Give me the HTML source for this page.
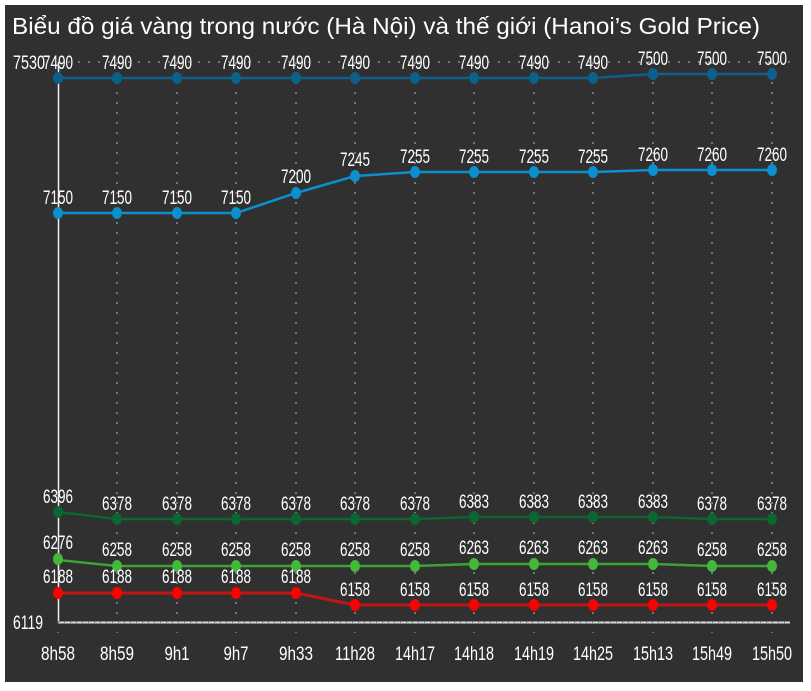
<!DOCTYPE html>
<html><head><meta charset="utf-8"><style>
html,body{margin:0;padding:0;background:#fff;width:811px;height:691px;overflow:hidden}
svg{display:block}
text{font-family:"Liberation Sans",sans-serif;fill:#fff}
</style></head><body>
<svg width="811" height="691" viewBox="0 0 811 691">
<rect x="5" y="5" width="798" height="677" fill="#303030"/>
<text x="12" y="34" style="font-size:23px" textLength="748" lengthAdjust="spacingAndGlyphs">Biểu đồ giá vàng trong nước (Hà Nội) và thế giới (Hanoi’s Gold Price)</text>
<g stroke="#bbb" stroke-width="1" stroke-dasharray="2,8">
<line x1="117" y1="62" x2="117" y2="622"/><line x1="177" y1="62" x2="177" y2="622"/><line x1="236" y1="62" x2="236" y2="622"/><line x1="296" y1="62" x2="296" y2="622"/><line x1="355" y1="62" x2="355" y2="622"/><line x1="415" y1="62" x2="415" y2="622"/><line x1="474" y1="62" x2="474" y2="622"/><line x1="534" y1="62" x2="534" y2="622"/><line x1="593" y1="62" x2="593" y2="622"/><line x1="653" y1="62" x2="653" y2="622"/><line x1="712" y1="62" x2="712" y2="622"/><line x1="772" y1="62" x2="772" y2="622"/>
<line x1="58" y1="62" x2="790" y2="62"/>
</g>
<g stroke="#aaa" stroke-dasharray="1,8"><line x1="58" y1="632" x2="58" y2="640"/><line x1="117" y1="632" x2="117" y2="640"/><line x1="177" y1="632" x2="177" y2="640"/><line x1="236" y1="632" x2="236" y2="640"/><line x1="296" y1="632" x2="296" y2="640"/><line x1="355" y1="632" x2="355" y2="640"/><line x1="415" y1="632" x2="415" y2="640"/><line x1="474" y1="632" x2="474" y2="640"/><line x1="534" y1="632" x2="534" y2="640"/><line x1="593" y1="632" x2="593" y2="640"/><line x1="653" y1="632" x2="653" y2="640"/><line x1="712" y1="632" x2="712" y2="640"/><line x1="772" y1="632" x2="772" y2="640"/></g>
<line x1="58.5" y1="62" x2="58.5" y2="623" stroke="#eee" stroke-width="1.5"/>
<line x1="58" y1="622.5" x2="790" y2="622.5" stroke="#ddd" stroke-width="2"/>
<line x1="58" y1="622" x2="790" y2="622" stroke="#777" stroke-width="2" stroke-dasharray="1,5"/>
<g style="font-size:19px" text-anchor="middle">
<text x="29" y="69" textLength="32" lengthAdjust="spacingAndGlyphs">7530</text>
<text x="28" y="629" textLength="30" lengthAdjust="spacingAndGlyphs">6119</text>
</g>
<polyline fill="none" stroke="#0d5f8c" stroke-width="2.5" points="58,78 117,78 177,78 236,78 296,78 355,78 415,78 474,78 534,78 593,78 653,74 712,74 772,74"/>
<g fill="#0d5f8c"><ellipse cx="58" cy="78" rx="5" ry="6"/><ellipse cx="117" cy="78" rx="5" ry="6"/><ellipse cx="177" cy="78" rx="5" ry="6"/><ellipse cx="236" cy="78" rx="5" ry="6"/><ellipse cx="296" cy="78" rx="5" ry="6"/><ellipse cx="355" cy="78" rx="5" ry="6"/><ellipse cx="415" cy="78" rx="5" ry="6"/><ellipse cx="474" cy="78" rx="5" ry="6"/><ellipse cx="534" cy="78" rx="5" ry="6"/><ellipse cx="593" cy="78" rx="5" ry="6"/><ellipse cx="653" cy="74" rx="5" ry="6"/><ellipse cx="712" cy="74" rx="5" ry="6"/><ellipse cx="772" cy="74" rx="5" ry="6"/></g>
<polyline fill="none" stroke="#0a8fcf" stroke-width="2.5" points="58,213 117,213 177,213 236,213 296,193 355,176 415,172 474,172 534,172 593,172 653,170 712,170 772,170"/>
<g fill="#0a8fcf"><ellipse cx="58" cy="213" rx="5" ry="6"/><ellipse cx="117" cy="213" rx="5" ry="6"/><ellipse cx="177" cy="213" rx="5" ry="6"/><ellipse cx="236" cy="213" rx="5" ry="6"/><ellipse cx="296" cy="193" rx="5" ry="6"/><ellipse cx="355" cy="176" rx="5" ry="6"/><ellipse cx="415" cy="172" rx="5" ry="6"/><ellipse cx="474" cy="172" rx="5" ry="6"/><ellipse cx="534" cy="172" rx="5" ry="6"/><ellipse cx="593" cy="172" rx="5" ry="6"/><ellipse cx="653" cy="170" rx="5" ry="6"/><ellipse cx="712" cy="170" rx="5" ry="6"/><ellipse cx="772" cy="170" rx="5" ry="6"/></g>
<polyline fill="none" stroke="#0b6630" stroke-width="2.5" points="58,512 117,519 177,519 236,519 296,519 355,519 415,519 474,517 534,517 593,517 653,517 712,519 772,519"/>
<g fill="#0b6630"><ellipse cx="58" cy="512" rx="5" ry="6"/><ellipse cx="117" cy="519" rx="5" ry="6"/><ellipse cx="177" cy="519" rx="5" ry="6"/><ellipse cx="236" cy="519" rx="5" ry="6"/><ellipse cx="296" cy="519" rx="5" ry="6"/><ellipse cx="355" cy="519" rx="5" ry="6"/><ellipse cx="415" cy="519" rx="5" ry="6"/><ellipse cx="474" cy="517" rx="5" ry="6"/><ellipse cx="534" cy="517" rx="5" ry="6"/><ellipse cx="593" cy="517" rx="5" ry="6"/><ellipse cx="653" cy="517" rx="5" ry="6"/><ellipse cx="712" cy="519" rx="5" ry="6"/><ellipse cx="772" cy="519" rx="5" ry="6"/></g>
<polyline fill="none" stroke="#3aa535" stroke-width="2.5" points="58,560 117,566 177,566 236,566 296,566 355,566 415,566 474,564 534,564 593,564 653,564 712,566 772,566"/>
<g fill="#43b83c"><ellipse cx="58" cy="559" rx="5" ry="6"/><ellipse cx="117" cy="566" rx="5" ry="6"/><ellipse cx="177" cy="566" rx="5" ry="6"/><ellipse cx="236" cy="566" rx="5" ry="6"/><ellipse cx="296" cy="566" rx="5" ry="6"/><ellipse cx="355" cy="566" rx="5" ry="6"/><ellipse cx="415" cy="566" rx="5" ry="6"/><ellipse cx="474" cy="564" rx="5" ry="6"/><ellipse cx="534" cy="564" rx="5" ry="6"/><ellipse cx="593" cy="564" rx="5" ry="6"/><ellipse cx="653" cy="564" rx="5" ry="6"/><ellipse cx="712" cy="566" rx="5" ry="6"/><ellipse cx="772" cy="566" rx="5" ry="6"/></g>
<polyline fill="none" stroke="#c01515" stroke-width="3" points="58,593 117,593 177,593 236,593 296,593 355,605 415,605 474,605 534,605 593,605 653,605 712,605 772,605"/>
<g fill="#f00"><ellipse cx="58" cy="593" rx="5" ry="6"/><ellipse cx="117" cy="593" rx="5" ry="6"/><ellipse cx="177" cy="593" rx="5" ry="6"/><ellipse cx="236" cy="593" rx="5" ry="6"/><ellipse cx="296" cy="593" rx="5" ry="6"/><ellipse cx="355" cy="605" rx="5" ry="6"/><ellipse cx="415" cy="605" rx="5" ry="6"/><ellipse cx="474" cy="605" rx="5" ry="6"/><ellipse cx="534" cy="605" rx="5" ry="6"/><ellipse cx="593" cy="605" rx="5" ry="6"/><ellipse cx="653" cy="605" rx="5" ry="6"/><ellipse cx="712" cy="605" rx="5" ry="6"/><ellipse cx="772" cy="605" rx="5" ry="6"/></g>
<g style="font-size:19px" text-anchor="middle">
<text x="58" y="69" textLength="30" lengthAdjust="spacingAndGlyphs">7490</text><text x="117" y="69" textLength="30" lengthAdjust="spacingAndGlyphs">7490</text><text x="177" y="69" textLength="30" lengthAdjust="spacingAndGlyphs">7490</text><text x="236" y="69" textLength="30" lengthAdjust="spacingAndGlyphs">7490</text><text x="296" y="69" textLength="30" lengthAdjust="spacingAndGlyphs">7490</text><text x="355" y="69" textLength="30" lengthAdjust="spacingAndGlyphs">7490</text><text x="415" y="69" textLength="30" lengthAdjust="spacingAndGlyphs">7490</text><text x="474" y="69" textLength="30" lengthAdjust="spacingAndGlyphs">7490</text><text x="534" y="69" textLength="30" lengthAdjust="spacingAndGlyphs">7490</text><text x="593" y="69" textLength="30" lengthAdjust="spacingAndGlyphs">7490</text><text x="653" y="65" textLength="30" lengthAdjust="spacingAndGlyphs">7500</text><text x="712" y="65" textLength="30" lengthAdjust="spacingAndGlyphs">7500</text><text x="772" y="65" textLength="30" lengthAdjust="spacingAndGlyphs">7500</text>
<text x="58" y="204" textLength="30" lengthAdjust="spacingAndGlyphs">7150</text><text x="117" y="204" textLength="30" lengthAdjust="spacingAndGlyphs">7150</text><text x="177" y="204" textLength="30" lengthAdjust="spacingAndGlyphs">7150</text><text x="236" y="204" textLength="30" lengthAdjust="spacingAndGlyphs">7150</text><text x="296" y="183" textLength="30" lengthAdjust="spacingAndGlyphs">7200</text><text x="355" y="166" textLength="30" lengthAdjust="spacingAndGlyphs">7245</text><text x="415" y="163" textLength="30" lengthAdjust="spacingAndGlyphs">7255</text><text x="474" y="163" textLength="30" lengthAdjust="spacingAndGlyphs">7255</text><text x="534" y="163" textLength="30" lengthAdjust="spacingAndGlyphs">7255</text><text x="593" y="163" textLength="30" lengthAdjust="spacingAndGlyphs">7255</text><text x="653" y="161" textLength="30" lengthAdjust="spacingAndGlyphs">7260</text><text x="712" y="161" textLength="30" lengthAdjust="spacingAndGlyphs">7260</text><text x="772" y="161" textLength="30" lengthAdjust="spacingAndGlyphs">7260</text>
<text x="58" y="503" textLength="30" lengthAdjust="spacingAndGlyphs">6396</text><text x="117" y="510" textLength="30" lengthAdjust="spacingAndGlyphs">6378</text><text x="177" y="510" textLength="30" lengthAdjust="spacingAndGlyphs">6378</text><text x="236" y="510" textLength="30" lengthAdjust="spacingAndGlyphs">6378</text><text x="296" y="510" textLength="30" lengthAdjust="spacingAndGlyphs">6378</text><text x="355" y="510" textLength="30" lengthAdjust="spacingAndGlyphs">6378</text><text x="415" y="510" textLength="30" lengthAdjust="spacingAndGlyphs">6378</text><text x="474" y="508" textLength="30" lengthAdjust="spacingAndGlyphs">6383</text><text x="534" y="508" textLength="30" lengthAdjust="spacingAndGlyphs">6383</text><text x="593" y="508" textLength="30" lengthAdjust="spacingAndGlyphs">6383</text><text x="653" y="508" textLength="30" lengthAdjust="spacingAndGlyphs">6383</text><text x="712" y="510" textLength="30" lengthAdjust="spacingAndGlyphs">6378</text><text x="772" y="510" textLength="30" lengthAdjust="spacingAndGlyphs">6378</text>
<text x="58" y="549" textLength="30" lengthAdjust="spacingAndGlyphs">6276</text><text x="117" y="556" textLength="30" lengthAdjust="spacingAndGlyphs">6258</text><text x="177" y="556" textLength="30" lengthAdjust="spacingAndGlyphs">6258</text><text x="236" y="556" textLength="30" lengthAdjust="spacingAndGlyphs">6258</text><text x="296" y="556" textLength="30" lengthAdjust="spacingAndGlyphs">6258</text><text x="355" y="556" textLength="30" lengthAdjust="spacingAndGlyphs">6258</text><text x="415" y="556" textLength="30" lengthAdjust="spacingAndGlyphs">6258</text><text x="474" y="554" textLength="30" lengthAdjust="spacingAndGlyphs">6263</text><text x="534" y="554" textLength="30" lengthAdjust="spacingAndGlyphs">6263</text><text x="593" y="554" textLength="30" lengthAdjust="spacingAndGlyphs">6263</text><text x="653" y="554" textLength="30" lengthAdjust="spacingAndGlyphs">6263</text><text x="712" y="556" textLength="30" lengthAdjust="spacingAndGlyphs">6258</text><text x="772" y="556" textLength="30" lengthAdjust="spacingAndGlyphs">6258</text>
<text x="58" y="583" textLength="30" lengthAdjust="spacingAndGlyphs">6188</text><text x="117" y="583" textLength="30" lengthAdjust="spacingAndGlyphs">6188</text><text x="177" y="583" textLength="30" lengthAdjust="spacingAndGlyphs">6188</text><text x="236" y="583" textLength="30" lengthAdjust="spacingAndGlyphs">6188</text><text x="296" y="583" textLength="30" lengthAdjust="spacingAndGlyphs">6188</text><text x="355" y="596" textLength="30" lengthAdjust="spacingAndGlyphs">6158</text><text x="415" y="596" textLength="30" lengthAdjust="spacingAndGlyphs">6158</text><text x="474" y="596" textLength="30" lengthAdjust="spacingAndGlyphs">6158</text><text x="534" y="596" textLength="30" lengthAdjust="spacingAndGlyphs">6158</text><text x="593" y="596" textLength="30" lengthAdjust="spacingAndGlyphs">6158</text><text x="653" y="596" textLength="30" lengthAdjust="spacingAndGlyphs">6158</text><text x="712" y="596" textLength="30" lengthAdjust="spacingAndGlyphs">6158</text><text x="772" y="596" textLength="30" lengthAdjust="spacingAndGlyphs">6158</text>
</g>
<g style="font-size:19px" text-anchor="middle">
<text x="58" y="660" textLength="34" lengthAdjust="spacingAndGlyphs">8h58</text><text x="117" y="660" textLength="34" lengthAdjust="spacingAndGlyphs">8h59</text><text x="177" y="660" textLength="25" lengthAdjust="spacingAndGlyphs">9h1</text><text x="236" y="660" textLength="25" lengthAdjust="spacingAndGlyphs">9h7</text><text x="296" y="660" textLength="34" lengthAdjust="spacingAndGlyphs">9h33</text><text x="355" y="660" textLength="40" lengthAdjust="spacingAndGlyphs">11h28</text><text x="415" y="660" textLength="40" lengthAdjust="spacingAndGlyphs">14h17</text><text x="474" y="660" textLength="40" lengthAdjust="spacingAndGlyphs">14h18</text><text x="534" y="660" textLength="40" lengthAdjust="spacingAndGlyphs">14h19</text><text x="593" y="660" textLength="40" lengthAdjust="spacingAndGlyphs">14h25</text><text x="653" y="660" textLength="40" lengthAdjust="spacingAndGlyphs">15h13</text><text x="712" y="660" textLength="40" lengthAdjust="spacingAndGlyphs">15h49</text><text x="772" y="660" textLength="40" lengthAdjust="spacingAndGlyphs">15h50</text>
</g>
</svg>
</body></html>
